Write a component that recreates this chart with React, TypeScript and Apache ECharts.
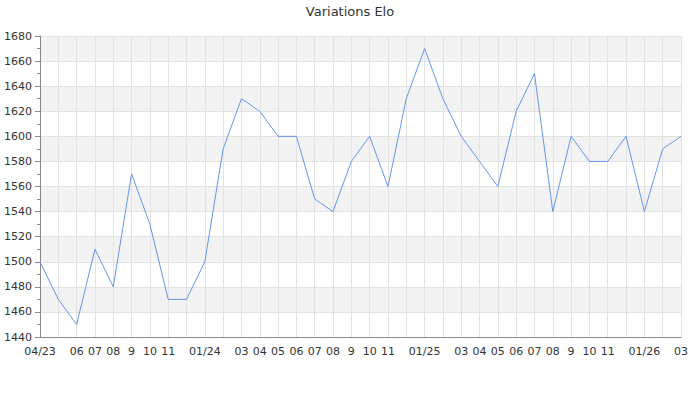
import React, { useEffect, useRef } from "react";
import * as echarts from "echarts";

const months = [
  "04/23", "05/23", "06/23", "07/23", "08/23", "09/23", "10/23", "11/23", "12/23",
  "01/24", "02/24", "03/24", "04/24", "05/24", "06/24", "07/24", "08/24", "09/24", "10/24", "11/24", "12/24",
  "01/25", "02/25", "03/25", "04/25", "05/25", "06/25", "07/25", "08/25", "09/25", "10/25", "11/25", "12/25",
  "01/26", "02/26", "03/26",
];

const tickLabels = [
  "04/23", "", "06", "07", "08", "9", "10", "11", "",
  "01/24", "", "03", "04", "05", "06", "07", "08", "9", "10", "11", "",
  "01/25", "", "03", "04", "05", "06", "07", "08", "9", "10", "11", "",
  "01/26", "", "03",
];

const elo = [
  1500, 1470, 1450, 1510, 1480, 1570, 1530, 1470, 1470,
  1500, 1590, 1630, 1620, 1600, 1600, 1550, 1540, 1580, 1600, 1560, 1630,
  1670, 1630, 1600, 1580, 1560, 1620, 1650, 1540, 1600, 1580, 1580, 1600,
  1540, 1590, 1600,
];

export default function App() {
  const ref = useRef<HTMLDivElement>(null);
  useEffect(() => {
    if (!ref.current) return;
    const chart = echarts.init(ref.current, undefined, { renderer: "svg" });
    chart.setOption({
      animation: false,
      textStyle: { fontFamily: "DejaVu Sans" },
      title: {
        text: "Variations Elo",
        left: "center",
        top: 0,
        textStyle: { fontSize: 13, fontWeight: "normal", color: "#333", fontFamily: "DejaVu Sans" },
      },
      grid: { left: 40, right: 19, top: 36, bottom: 63, containLabel: false },
      xAxis: {
        type: "category",
        data: months,
        boundaryGap: false,
        axisLine: { lineStyle: { color: "#888" } },
        axisTick: { show: false },
        axisLabel: {
          interval: 0,
          color: "#333",
          fontSize: 11,
          margin: 9,
          formatter: (_v: string, i: number) => tickLabels[i],
        },
        splitLine: { show: true, lineStyle: { color: "#e2e2e2", width: 1 } },
      },
      yAxis: {
        type: "value",
        min: 1440,
        max: 1680,
        interval: 20,
        axisLine: { show: true, lineStyle: { color: "#888" } },
        axisTick: { show: true, length: 5, lineStyle: { color: "#888" } },
        minorTick: { show: true, splitNumber: 2, length: 3, lineStyle: { color: "#888" } },
        axisLabel: { color: "#333", fontSize: 11, margin: 8, formatter: (v: number) => String(v) },
        splitLine: { show: true, lineStyle: { color: "#e2e2e2", width: 1 } },
        splitArea: { show: true, areaStyle: { color: ["#ffffff", "#f3f3f3"] } },
      },
      series: [
        {
          type: "line",
          data: elo,
          symbol: "none",
          lineStyle: { color: "#6495ed", width: 1 },
        },
      ],
    });
    return () => chart.dispose();
  }, []);
  return (
    <div
      ref={ref}
      style={{ position: "fixed", left: 0, top: 0, width: 700, height: 400, background: "#fff" }}
    />
  );
}
